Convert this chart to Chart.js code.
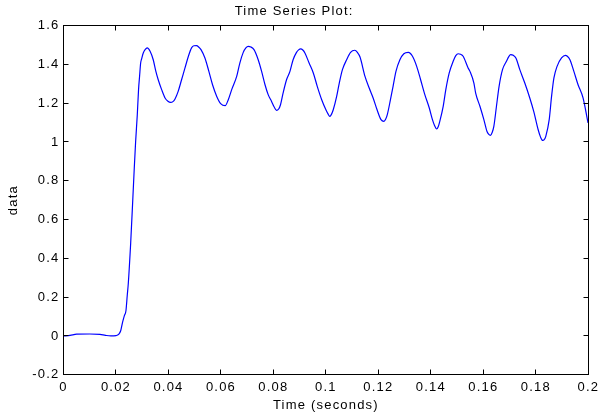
<!DOCTYPE html>
<html lang="en">
<head>
    <meta charset="UTF-8">
    <title>Time Series Plot</title>
    <script src="https://cdn.jsdelivr.net/npm/chart.js"></script>
    <style>
        body { margin: 0; background: #fff; }
        canvas { display: block; }
    </style>
</head>
<body>
    <canvas id="tsChart" width="599" height="416"></canvas>

    <script>
        // sampled signal (seconds, value)
        const times = [
            0.0000, 0.0025, 0.0050, 0.0100, 0.0139, 0.0160, 0.0180, 0.0200, 0.0210, 0.0218,
            0.0225, 0.0232, 0.0238, 0.0243, 0.0247, 0.0256, 0.0264, 0.0270, 0.0275, 0.0281,
            0.0286, 0.0290, 0.0294, 0.0298, 0.0304, 0.0311, 0.0319, 0.0330, 0.0342, 0.0352,
            0.0361, 0.0374, 0.0387, 0.0398, 0.0408, 0.0417, 0.0425, 0.0437, 0.0450, 0.0463,
            0.0476, 0.0488, 0.0497, 0.0507, 0.0515, 0.0524, 0.0539, 0.0554, 0.0568, 0.0584,
            0.0600, 0.0616, 0.0628, 0.0641, 0.0660, 0.0672, 0.0685, 0.0695, 0.0704, 0.0714,
            0.0726, 0.0742, 0.0755, 0.0768, 0.0780, 0.0793, 0.0803, 0.0812, 0.0820, 0.0827,
            0.0837, 0.0850, 0.0863, 0.0875, 0.0888, 0.0896, 0.0904, 0.0912, 0.0920, 0.0936,
            0.0952, 0.0967, 0.0984, 0.1000, 0.1008, 0.1015, 0.1022, 0.1028, 0.1041, 0.1051,
            0.1063, 0.1079, 0.1094, 0.1110, 0.1120, 0.1130, 0.1149, 0.1165, 0.1180, 0.1195,
            0.1210, 0.1221, 0.1228, 0.1234, 0.1246, 0.1256, 0.1267, 0.1282, 0.1297, 0.1314,
            0.1330, 0.1346, 0.1361, 0.1377, 0.1394, 0.1406, 0.1414, 0.1422, 0.1428, 0.1434,
            0.1447, 0.1457, 0.1470, 0.1485, 0.1495, 0.1504, 0.1513, 0.1523, 0.1542, 0.1549,
            0.1564, 0.1571, 0.1587, 0.1602, 0.1614, 0.1620, 0.1627, 0.1634, 0.1640, 0.1650,
            0.1660, 0.1673, 0.1688, 0.1697, 0.1704, 0.1714, 0.1724, 0.1739, 0.1758, 0.1777,
            0.1792, 0.1809, 0.1818, 0.1826, 0.1832, 0.1838, 0.1851, 0.1860, 0.1869, 0.1881,
            0.1898, 0.1913, 0.1920, 0.1930, 0.1945, 0.1961, 0.1980, 0.1999
        ];
        const values = [
            0.000, 0.003, 0.009, 0.010, 0.008, 0.003, 0.000, 0.002, 0.008, 0.027,
            0.070, 0.105, 0.130, 0.210, 0.272, 0.478, 0.702, 0.874, 1.005, 1.135,
            1.270, 1.340, 1.407, 1.430, 1.459, 1.476, 1.485, 1.468, 1.424, 1.364,
            1.321, 1.270, 1.227, 1.210, 1.204, 1.208, 1.222, 1.261, 1.321, 1.382,
            1.442, 1.485, 1.496, 1.497, 1.490, 1.476, 1.433, 1.364, 1.295, 1.235,
            1.196, 1.187, 1.218, 1.270, 1.338, 1.407, 1.462, 1.485, 1.493, 1.490,
            1.476, 1.424, 1.364, 1.295, 1.244, 1.209, 1.180, 1.163, 1.170, 1.192,
            1.253, 1.321, 1.364, 1.424, 1.462, 1.475, 1.480, 1.474, 1.459, 1.407,
            1.356, 1.287, 1.218, 1.166, 1.145, 1.132, 1.145, 1.166, 1.235, 1.304,
            1.373, 1.424, 1.462, 1.473, 1.462, 1.438, 1.338, 1.278, 1.227, 1.166,
            1.115, 1.106, 1.118, 1.141, 1.218, 1.287, 1.364, 1.424, 1.455, 1.462,
            1.442, 1.390, 1.321, 1.244, 1.175, 1.115, 1.085, 1.067, 1.078, 1.106,
            1.184, 1.270, 1.356, 1.416, 1.445, 1.455, 1.452, 1.442, 1.382, 1.364,
            1.304, 1.250, 1.184, 1.115, 1.054, 1.040, 1.034, 1.050, 1.080, 1.184,
            1.287, 1.373, 1.416, 1.440, 1.450, 1.447, 1.433, 1.373, 1.304, 1.227,
            1.158, 1.063, 1.025, 1.008, 1.012, 1.029, 1.115, 1.235, 1.330, 1.390,
            1.433, 1.447, 1.442, 1.424, 1.364, 1.295, 1.227, 1.098
        ];

        const xTickValues = [0, 0.02, 0.04, 0.06, 0.08, 0.1, 0.12, 0.14, 0.16, 0.18, 0.2];
        const yTickValues = [-0.2, 0, 0.2, 0.4, 0.6, 0.8, 1, 1.2, 1.4, 1.6];

        const FONT = "'Liberation Sans', Arial, sans-serif";

        // box around the axes with inward tick marks on all four sides
        const axesBox = {
            id: 'axesBox',
            beforeDraw(chart) {
                chart.ctx.letterSpacing = '1.2px';
            },
            afterDraw(chart) {
                const { ctx, chartArea: a, scales: { x, y } } = chart;
                const crisp = v => Math.round(v - 0.5) + 0.5;
                const L = crisp(a.left), R = crisp(a.right), T = crisp(a.top), B = crisp(a.bottom);
                const len = 5;
                ctx.save();
                ctx.strokeStyle = '#000';
                ctx.lineWidth = 1;
                ctx.strokeRect(L, T, R - L, B - T);
                ctx.beginPath();
                x.ticks.forEach(t => {
                    const px = crisp(x.getPixelForValue(t.value));
                    ctx.moveTo(px, B); ctx.lineTo(px, B - len);
                    ctx.moveTo(px, T); ctx.lineTo(px, T + len);
                });
                y.ticks.forEach(t => {
                    const py = crisp(y.getPixelForValue(t.value));
                    ctx.moveTo(L, py); ctx.lineTo(L + len, py);
                    ctx.moveTo(R, py); ctx.lineTo(R - len, py);
                });
                ctx.stroke();
                ctx.restore();
            }
        };

        const ctx = document.getElementById('tsChart').getContext('2d');
        new Chart(ctx, {
            type: 'line',
            data: {
                datasets: [{
                    label: 'data',
                    data: times.map((t, i) => ({ x: t, y: values[i] })),
                    borderColor: '#0000ff',
                    borderWidth: 1.2,
                    pointRadius: 0,
                    fill: false,
                    cubicInterpolationMode: 'monotone'
                }]
            },
            options: {
                responsive: false,
                animation: false,
                devicePixelRatio: 1,
                layout: { padding: { left: 0, right: 10.7, top: 0, bottom: 0 } },
                plugins: {
                    legend: { display: false },
                    tooltip: { enabled: false },
                    title: {
                        display: true,
                        text: 'Time Series Plot:',
                        color: '#000',
                        font: { family: FONT, size: 13, weight: 'normal' },
                        padding: { top: 4, bottom: 6 }
                    }
                },
                scales: {
                    x: {
                        type: 'linear',
                        min: 0,
                        max: 0.2,
                        afterBuildTicks: s => { s.ticks = xTickValues.map(v => ({ value: v })); },
                        afterFit: s => { s.height = 41.25; s.paddingLeft = 0; s.paddingRight = 0; },
                        grid: { display: false, drawTicks: false },
                        border: { display: false },
                        ticks: {
                            color: '#000',
                            padding: 5,
                            maxRotation: 0,
                            font: { family: FONT, size: 13 },
                            callback: v => String(v)
                        },
                        title: {
                            display: true,
                            text: 'Time (seconds)',
                            color: '#000',
                            font: { family: FONT, size: 13 },
                            padding: { top: 0, bottom: 3 }
                        }
                    },
                    y: {
                        min: -0.2,
                        max: 1.6,
                        afterBuildTicks: s => { s.ticks = yTickValues.map(v => ({ value: v })); },
                        afterFit: s => { s.width = 63.5; s.paddingTop = 0; s.paddingBottom = 0; },
                        grid: { display: false, drawTicks: false },
                        border: { display: false },
                        ticks: {
                            color: '#000',
                            padding: 4,
                            font: { family: FONT, size: 13 },
                            callback: v => String(v)
                        },
                        title: {
                            display: true,
                            text: 'data',
                            color: '#000',
                            font: { family: FONT, size: 13 },
                            padding: { top: 6, bottom: 0 }
                        }
                    }
                }
            },
            plugins: [axesBox]
        });
    </script>
</body>
</html>
